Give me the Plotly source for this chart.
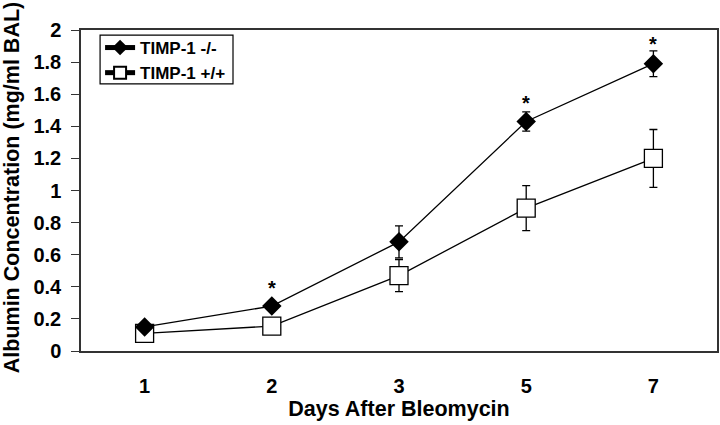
import plotly.graph_objects as go

days = ["1", "2", "3", "5", "7"]
ko_mean = [0.15, 0.28, 0.68, 1.43, 1.79]
ko_err = [0.0, 0.0, 0.10, 0.06, 0.08]
wt_mean = [0.11, 0.155, 0.47, 0.89, 1.20]
wt_err = [0.0, 0.0, 0.10, 0.14, 0.18]
star_days = ["2", "5", "7"]
y_ticks = [0, 0.2, 0.4, 0.6, 0.8, 1.0, 1.2, 1.4, 1.6, 1.8, 2.0]
x_title = "Days After Bleomycin"
y_title = "Albumin Concentration (mg/ml BAL)"

FONT = "Liberation Sans, Arial, sans-serif"

fig = go.Figure()
fig.add_trace(go.Scatter(
    x=days, y=wt_mean, name="TIMP-1 +/+", mode="lines+markers",
    line=dict(color="black", width=1.3),
    marker=dict(symbol="square", size=18, color="white", line=dict(color="black", width=1.3)),
    error_y=dict(type="data", array=wt_err, visible=True, color="black", thickness=1.3, width=4),
))
fig.add_trace(go.Scatter(
    x=days, y=ko_mean, name="TIMP-1 -/-", mode="lines+markers",
    line=dict(color="black", width=1.3),
    marker=dict(symbol="diamond", size=15, color="black", line=dict(color="black", width=0)),
    error_y=dict(type="data", array=ko_err, visible=True, color="black", thickness=1.3, width=4),
))

for d in star_days:
    i = days.index(d)
    top = ko_mean[i] + max(ko_err[i], 0.07)
    fig.add_annotation(x=i, y=top, text="*", showarrow=False, yanchor="bottom",
                       yshift=-6, font=dict(family=FONT, size=20, color="black", weight="bold"))

# y-axis title placed as in the reference (centred on the chart area, not the plot)
fig.add_annotation(text=y_title, xref="paper", yref="paper", x=-0.108, y=0.508,
                   textangle=-90, showarrow=False, xanchor="center", yanchor="middle",
                   font=dict(family=FONT, size=21.5, color="black", weight="bold"))

# legend frame (tighter than plotly's own legend border)
fig.add_shape(type="rect", xref="paper", yref="paper",
              x0=0.03, x1=0.239, y0=0.832, y1=0.984,
              line=dict(color="black", width=1.2), fillcolor="rgba(0,0,0,0)")

fig.update_layout(
    width=720, height=425,
    margin=dict(l=81, r=3, t=30, b=74),
    paper_bgcolor="white", plot_bgcolor="white",
    font=dict(family=FONT, color="black", weight="bold"),
    legend=dict(x=0.03, y=1.0, xanchor="left", yanchor="top",
                borderwidth=0, bgcolor="rgba(0,0,0,0)",
                traceorder="reversed", itemsizing="constant",
                font=dict(family=FONT, size=17, weight="bold"),
                itemwidth=30, tracegroupgap=0),
    showlegend=True,
)
fig.update_xaxes(
    type="category", range=[-0.5, 4.5], automargin=False,
    showline=True, linecolor="#333", linewidth=1.5, mirror=True,
    showgrid=False, ticks="", ticklabelstandoff=16,
    tickfont=dict(family=FONT, size=20, weight="bold"),
    title=dict(text=x_title, standoff=0,
               font=dict(family=FONT, size=21.5, weight="bold")),
)
fig.update_yaxes(
    range=[0, 2], tickvals=y_ticks, ticks="outside", ticklen=8, tickcolor="#333",
    automargin=False, ticklabelstandoff=6,
    showline=True, linecolor="#333", linewidth=1.5, mirror=True,
    showgrid=False, zeroline=False,
    tickfont=dict(family=FONT, size=20, weight="bold"),
)

# remove the browser's default 8px page margin so the figure fills the window
fig.write_html("out.html", config={"displayModeBar": False},
               post_script="document.body.style.margin='0';")
